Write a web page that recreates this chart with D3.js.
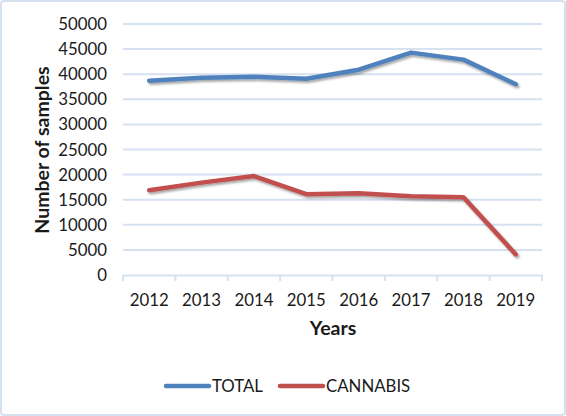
<!DOCTYPE html>
<html lang="en">
<head>
    <meta charset="UTF-8">
    <title>Number of samples</title>
    <script src="https://d3js.org/d3.v7.min.js"></script>
    <style>
        body { margin: 0; background: #fff; }
        text { font-family: Lato, "Open Sans", sans-serif; fill: #1a1a1a; }
    </style>
</head>
<body>
    <script>
        const years = ["2012", "2013", "2014", "2015", "2016", "2017", "2018", "2019"];
        const total = [38700, 39300, 39500, 39100, 40900, 44300, 42900, 38000];
        const cannabis = [16900, 18400, 19700, 16100, 16300, 15700, 15500, 4100];
        const yTicks = [0, 5000, 10000, 15000, 20000, 25000, 30000, 35000, 40000, 45000, 50000];
        const seriesNames = ["TOTAL", "CANNABIS"];
        const colors = ["#4F81BD", "#C0504D"];

        const w = 566;
        const h = 416;
        const plotLeft = 123, plotRight = 542, plotTop = 24, plotBottom = 275;

        const svg = d3.select("body")
            .append("svg")
            .attr("width", w)
            .attr("height", h);

        const defs = svg.append("defs");
        defs.append("filter")
            .attr("id", "shadow")
            .attr("x", "-10%").attr("y", "-10%")
            .attr("width", "120%").attr("height", "130%")
            .append("feDropShadow")
            .attr("dx", 1.5).attr("dy", 2)
            .attr("stdDeviation", 1.3)
            .attr("flood-color", "#000")
            .attr("flood-opacity", 0.35);

        // chart border
        svg.append("rect")
            .attr("x", 1).attr("y", 1)
            .attr("width", w - 2).attr("height", h - 2)
            .attr("rx", 3)
            .attr("fill", "#fff")
            .attr("stroke", "#D5E0F0")
            .attr("stroke-width", 2);

        const x = d3.scaleBand()
            .domain(years)
            .range([plotLeft, plotRight]);

        const y = d3.scaleLinear()
            .domain([0, 50000])
            .range([plotBottom, plotTop]);

        // gridlines
        svg.append("g")
            .selectAll("line")
            .data(yTicks.filter(d => d > 0))
            .join("line")
            .attr("x1", plotLeft).attr("x2", plotRight)
            .attr("y1", d => y(d)).attr("y2", d => y(d))
            .attr("stroke", "#D6E1F1")
            .attr("stroke-width", 2);

        // y labels
        svg.append("g")
            .selectAll("text")
            .data(yTicks)
            .join("text")
            .attr("x", 107)
            .attr("y", d => y(d))
            .attr("dy", "0.36em")
            .attr("text-anchor", "end")
            .attr("font-size", 16.8)
            .text(d => d);

        // x axis
        const xAxis = d3.axisBottom(x).tickSize(0).tickPadding(0);
        const gx = svg.append("g")
            .attr("transform", "translate(0," + plotBottom + ")")
            .call(xAxis);
        gx.attr("font-family", null).attr("font-size", null);
        gx.select(".domain").attr("stroke", "#D6E1F1").attr("stroke-width", 2);
        gx.selectAll("text")
            .attr("font-size", 16.8)
            .attr("fill", "#1a1a1a")
            .attr("dy", null)
            .attr("y", 31);

        const bounds = years.map(d => x(d)).concat([plotRight]);
        gx.selectAll(".sep")
            .data(bounds)
            .join("line")
            .attr("class", "sep")
            .attr("x1", d => d).attr("x2", d => d)
            .attr("y1", 0).attr("y2", 6)
            .attr("stroke", "#D6E1F1")
            .attr("stroke-width", 2);

        // lines
        const line = d3.line()
            .x((d, i) => x(years[i]) + x.bandwidth() / 2)
            .y(d => y(d));

        [total, cannabis].forEach((s, i) => {
            svg.append("path")
                .datum(s)
                .attr("fill", "none")
                .attr("stroke", colors[i])
                .attr("stroke-width", 4.5)
                .attr("stroke-linejoin", "round")
                .attr("stroke-linecap", "round")
                .attr("filter", "url(#shadow)")
                .attr("d", line);
        });

        // axis titles
        svg.append("text")
            .attr("transform", "translate(49,150) rotate(-90)")
            .attr("text-anchor", "middle")
            .attr("font-size", 19.5)
            .attr("font-weight", "bold")
            .text("Number of samples");

        svg.append("text")
            .attr("x", 333).attr("y", 335)
            .attr("text-anchor", "middle")
            .attr("font-size", 19.5)
            .attr("font-weight", "bold")
            .text("Years");

        // legend
        const legendX = [166, 280];
        const legend = svg.append("g")
            .selectAll("g")
            .data(seriesNames)
            .join("g")
            .attr("transform", (d, i) => "translate(" + legendX[i] + ",386)");
        legend.append("line")
            .attr("x1", 0).attr("x2", 43)
            .attr("y1", 0).attr("y2", 0)
            .attr("stroke", (d, i) => colors[i])
            .attr("stroke-width", 4.5)
            .attr("stroke-linecap", "round");
        legend.append("text")
            .attr("x", 46).attr("y", 5.5)
            .attr("font-size", 16.8)
            .text(d => d);
    </script>
</body>
</html>
